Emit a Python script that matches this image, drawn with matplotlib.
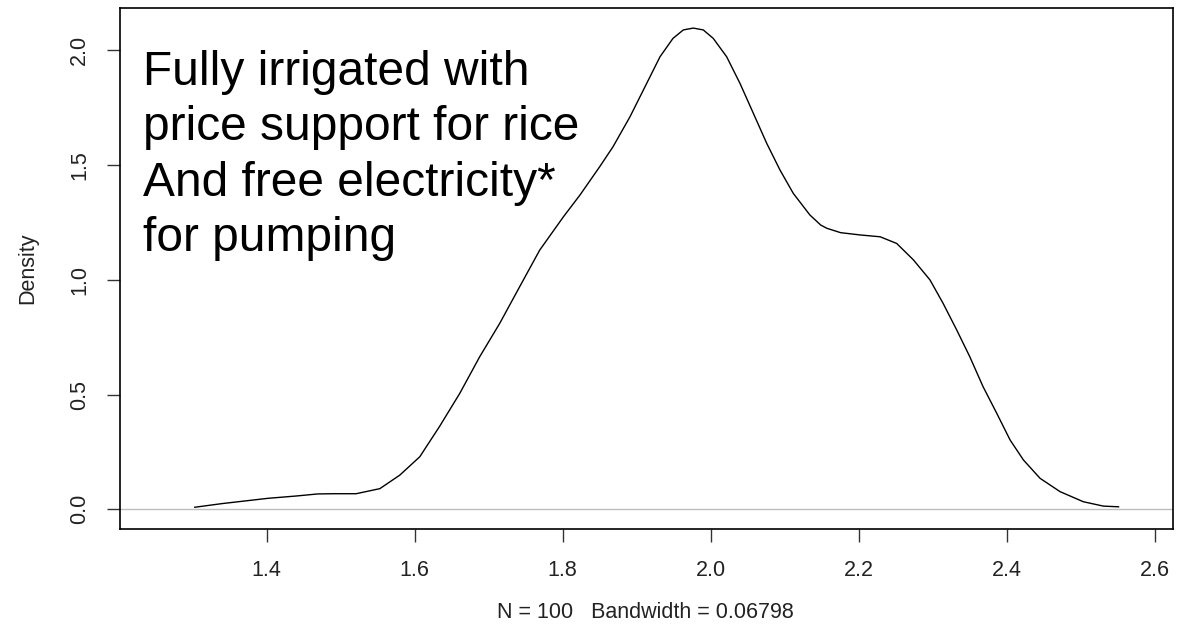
import numpy as np
import matplotlib.pyplot as plt

plt.rcParams['font.family'] = ['Liberation Sans', 'DejaVu Sans']

# density estimate (x, density)
dens_x = [1.303, 1.340, 1.402, 1.440, 1.469, 1.490, 1.521, 1.553, 1.580,
          1.607, 1.6335, 1.661, 1.688, 1.715, 1.742, 1.769, 1.801, 1.8234,
          1.850, 1.868, 1.891, 1.9135, 1.9315, 1.949, 1.963, 1.9765, 1.990,
          2.0035, 2.0216, 2.0396, 2.0576, 2.0757, 2.0936, 2.1116, 2.134,
          2.1487, 2.157, 2.1755, 2.202, 2.229, 2.2513, 2.274, 2.2963, 2.314,
          2.3324, 2.350, 2.368, 2.3865, 2.4045, 2.4225, 2.445, 2.472,
          2.5035, 2.5305, 2.551]
dens_y = [0.009, 0.025, 0.048, 0.058, 0.067, 0.068, 0.068, 0.090, 0.149,
          0.229, 0.360, 0.505, 0.665, 0.810, 0.970, 1.129, 1.274, 1.369,
          1.492, 1.579, 1.710, 1.855, 1.971, 2.051, 2.088, 2.096, 2.088,
          2.051, 1.971, 1.855, 1.725, 1.594, 1.478, 1.376, 1.282,
          1.238, 1.224, 1.205, 1.195, 1.187, 1.158, 1.086, 0.999, 0.897,
          0.781, 0.665, 0.534, 0.418, 0.302, 0.215, 0.135, 0.077,
          0.033, 0.014, 0.011]

x_ticks = [1.4, 1.6, 1.8, 2.0, 2.2, 2.4, 2.6]
y_ticks = [0.0, 0.5, 1.0, 1.5, 2.0]

note = ('Fully irrigated with\nprice support for rice\n'
        'And free electricity*\nfor pumping')
sub = 'N = 100   Bandwidth = 0.06798'

fig = plt.figure(figsize=(11.86, 6.36), dpi=100)
ax = fig.add_axes([0.1012, 0.1682, 0.8881, 0.8194])

ax.axhline(0, color='#BEBEBE', linewidth=1.0, zorder=1)
ax.plot(dens_x, dens_y, color='black', linewidth=1.0, zorder=2)

ax.set_xlim(1.202, 2.625)
ax.set_ylim(-0.0858, 2.184)
ax.set_xticks(x_ticks)
ax.set_xticklabels(['%.1f' % v for v in x_ticks])
ax.set_yticks(y_ticks)
ax.set_yticklabels(['%.1f' % v for v in y_ticks])

for s in ax.spines.values():
    s.set_linewidth(1.2)
ax.tick_params(axis='both', length=9.4, width=1.0, labelsize=15.5,
               color='#333333', labelcolor='#222222')
ax.tick_params(axis='x', pad=13)
ax.tick_params(axis='y', pad=12, labelrotation=90)
for lab in ax.get_yticklabels():
    lab.set_va('center')

ax.set_ylabel('Density', fontsize=15.5, labelpad=22, color='#222222')
fig.text(0.5438, 0.037, sub, ha='center', va='center', fontsize=15.5,
         color='#222222')

ax.text(0.022, 0.920, note, transform=ax.transAxes, ha='left', va='top',
        fontsize=34.5, linespacing=1.30, color='black')

fig.savefig('out.png', dpi=100)
